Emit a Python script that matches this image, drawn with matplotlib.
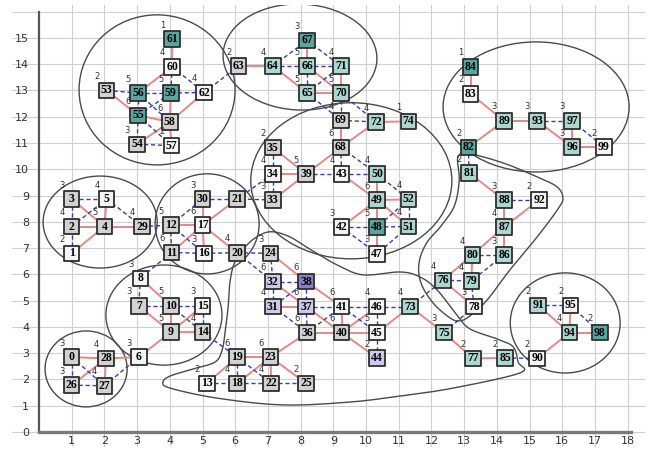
# -*- coding: utf-8 -*-
"""
Network partition chart: numbered nodes on a grid, red/blue edges, cluster outlines
"""
import numpy as np
import matplotlib
matplotlib.use('Agg')
import matplotlib.pyplot as plt
from matplotlib.patches import Ellipse

# node positions, index = node id
node_x = [1.0, 1.0, 1.0, 1.0, 2.0, 2.07, 3.05, 3.05, 3.1, 4.03,
          4.03, 4.05, 4.03, 5.13, 5.0, 5.0, 5.05, 5.0, 6.06, 6.06,
          6.06, 6.06, 7.1, 7.08, 7.08, 8.17, 1.0, 2.0, 2.05, 3.15,
          5.0, 7.15, 7.15, 7.15, 7.15, 7.15, 8.2, 8.17, 8.17, 8.17,
          9.25, 9.25, 9.25, 9.25, 10.34, 10.34, 10.34, 10.34, 10.34, 10.34,
          10.34, 11.3, 11.3, 2.07, 3.0, 3.03, 3.03, 4.05, 4.0, 4.03,
          4.07, 4.07, 5.05, 6.1, 7.15, 8.2, 8.2, 8.2, 9.23, 9.23,
          9.23, 9.23, 10.3, 11.35, 11.3, 12.38, 12.35, 13.27, 13.3, 13.22,
          13.25, 13.15, 13.13, 13.2, 13.2, 14.25, 14.22, 14.22, 14.22, 14.22,
          15.23, 15.26, 15.29, 15.23, 16.22, 16.25, 16.3, 16.3, 17.15, 17.27]
node_y = [2.85, 6.8, 7.82, 8.87, 7.82, 8.87, 2.85, 4.8, 5.85, 3.8,
          4.8, 6.83, 7.87, 1.85, 3.8, 4.8, 6.8, 7.87, 1.85, 2.85,
          6.82, 8.87, 1.85, 2.85, 6.8, 1.85, 1.78, 1.76, 2.8, 7.82,
          8.87, 4.77, 5.72, 8.83, 9.82, 10.82, 3.78, 4.77, 5.72, 9.82,
          3.78, 4.77, 7.8, 9.82, 2.82, 3.78, 4.77, 6.78, 7.8, 8.83,
          9.82, 7.82, 8.85, 13.0, 10.95, 12.05, 12.9, 10.9, 11.8, 12.9,
          13.9, 14.95, 12.92, 13.93, 13.93, 12.9, 13.93, 14.9, 10.83, 11.86,
          12.9, 13.93, 11.8, 4.77, 11.82, 3.78, 5.77, 2.8, 4.77, 5.75,
          6.74, 9.86, 10.83, 12.87, 13.9, 2.82, 6.74, 7.8, 8.83, 11.84,
          2.8, 4.82, 8.83, 11.84, 3.78, 4.82, 10.85, 11.84, 3.78, 10.85]

# small number shown above-left of every node (None = not shown)
node_degree = [3, 2, 4, 3, 5, 4, 3, 3, 3, 5,
               5, 6, 5, 2, 4, 3, 3, 6, 4, 6,
               4, None, 4, 6, 3, 2, 3, 4, 4, 4,
               3, 4, 6, 3, 4, 2, 6, 6, 6, 5,
               6, 6, 3, 4, 2, 5, 4, 3, 5, 6,
               4, 4, 4, 2, 3, 6, 5, 2, 6, 5,
               4, 1, 4, 2, 4, 5, 5, 3, 6, 4,
               5, 4, 4, 4, 1, 3, 4, 2, 3, 4,
               4, 2, 2, 2, 1, 2, 3, 4, 3, 3,
               2, 2, 2, 3, 4, 2, 3, 3, 2, 2]

# box fill: g grey, w white, t teal, l light teal, p purple, q light purple
node_fill = list('gwgggwwgwg'
                 'gggwgwwwgg'
                 'gggggggggg'
                 'gqqgwggqpg'
                 'gwwwqwwwtl'
                 'lllggttwgt'
                 'wtwgllltgg'
                 'llllllllwl'
                 'lltwtlllll'
                 'wlwllwlltw')

red_edges = [(61, 60), (60, 56), (53, 55), (59, 58), (58, 57), (55, 58), (62, 58), (54, 58),
             (63, 64), (64, 65), (67, 66), (66, 70), (65, 70), (71, 70),
             (69, 68), (72, 74), (68, 72), (68, 39), (35, 39), (34, 39), (33, 39),
             (43, 49), (50, 49), (49, 52), (49, 42), (49, 48), (49, 51), (48, 47),
             (3, 4), (5, 4), (2, 4), (4, 29), (1, 4),
             (12, 17), (30, 17), (21, 17), (17, 16), (17, 11), (17, 20),
             (8, 10), (7, 9), (10, 9), (15, 9), (9, 14), (9, 6),
             (0, 28), (28, 27), (28, 26), (28, 6),
             (13, 19), (19, 23), (18, 23), (23, 22), (23, 25), (23, 36),
             (24, 38), (32, 37), (38, 41), (31, 37), (37, 40), (36, 40), (41, 40),
             (40, 46), (40, 45), (40, 44), (45, 73), (73, 75), (75, 77), (77, 85), (90, 94),
             (76, 78), (80, 79), (80, 76), (87, 86), (87, 80), (88, 87), (92, 87), (81, 88),
             (82, 89), (84, 83), (83, 89), (89, 93), (93, 96), (97, 96), (96, 99),
             (91, 94), (95, 94), (94, 98)]

blue_edges = [(60, 59), (60, 62), (53, 56), (56, 59), (59, 62), (56, 55), (56, 58), (55, 59),
              (55, 54), (55, 57), (54, 57), (62, 63),
              (64, 66), (64, 67), (67, 71), (66, 71), (66, 65), (65, 71), (70, 69), (65, 69),
              (70, 72), (69, 72),
              (68, 43), (68, 50), (35, 34), (34, 33), (34, 21), (33, 21), (39, 43), (43, 50),
              (50, 52), (52, 51), (52, 48), (42, 48), (42, 47), (48, 51), (51, 47),
              (3, 5), (3, 2), (2, 5), (5, 29), (1, 2), (29, 12),
              (12, 30), (30, 21), (12, 11), (12, 16), (11, 16), (16, 20), (11, 8), (20, 24), (20, 32),
              (8, 7), (7, 10), (10, 15), (10, 14), (15, 14), (14, 19),
              (0, 26), (0, 27), (26, 27), (27, 6),
              (13, 18), (19, 18), (19, 22), (18, 22), (22, 25),
              (24, 32), (32, 38), (32, 31), (38, 37), (38, 31), (31, 36), (37, 41), (37, 36),
              (36, 41), (41, 46), (41, 45), (46, 45), (45, 44), (46, 73),
              (73, 76), (78, 75), (76, 79), (79, 78), (80, 86), (86, 79), (88, 92), (82, 81),
              (93, 97), (97, 99), (85, 90), (91, 95), (95, 98)]

# cluster ellipses: centre x, centre y, width, height, angle
ell_cx = [3.61, 7.98, 15.2, 9.55, 1.87, 5.14, 3.82, 1.44, 16.09]
ell_cy = [13.02, 14.27, 12.37, 9.56, 7.99, 7.92, 4.45, 2.4, 4.15]
ell_w = [4.77, 4.71, 5.69, 6.15, 3.49, 3.18, 3.55, 2.51, 3.36]
ell_h = [5.71, 4.03, 4.95, 5.94, 3.5, 3.81, 3.81, 2.89, 3.81]
ell_ang = [0, -5, 0, 0, 0, 0, 0, 0, 0]

# irregular cluster outlines (control points of a closed smooth curve)
blob_lower = [(6.76, 7.5), (7.15, 7.62), (7.68, 7.42), (8.29, 6.95), (9.11, 6.36),
              (9.91, 5.98), (11.04, 6.09), (11.65, 5.90), (12.17, 5.41), (12.78, 4.45),
              (13.18, 3.92), (14.01, 3.54), (14.50, 3.24), (14.65, 2.66), (14.71, 2.25),
              (12.66, 1.67), (11.04, 1.37), (9.51, 1.14), (7.46, 1.03), (5.44, 1.29),
              (4.01, 1.67), (3.79, 1.90), (4.01, 2.13), (4.71, 2.40), (5.38, 2.66),
              (5.60, 3.12), (5.69, 3.81), (5.78, 4.72), (5.84, 5.71), (5.99, 6.47),
              (6.36, 7.12)]
blob_right = [(12.81, 10.47), (13.18, 10.58), (14.19, 10.24), (15.23, 9.71), (15.84, 9.33),
              (16.02, 8.91), (15.87, 8.49), (15.23, 7.42), (14.40, 6.17), (13.70, 5.02),
              (13.18, 4.42), (12.87, 4.23), (12.57, 4.34), (12.05, 4.91), (11.68, 5.67),
              (11.62, 6.43), (11.85, 7.19), (12.3, 7.85), (12.7, 8.6), (12.85, 9.59)]

fills = {'g': '#d2d2d2', 'w': '#f5f5f5', 't': '#5aa69f', 'l': '#acd7d1',
         'p': '#8a80c6', 'q': '#cdc8ec'}


def closed_curve(points, steps=14):
    """闭合 Catmull-Rom 曲线"""
    p = np.array(points, dtype=float)
    n = len(p)
    out = []
    for i in range(n):
        p0, p1, p2, p3 = p[i - 1], p[i], p[(i + 1) % n], p[(i + 2) % n]
        for t in np.linspace(0, 1, steps, endpoint=False):
            t2, t3 = t * t, t * t * t
            out.append(0.5 * ((2 * p1) + (-p0 + p2) * t +
                              (2 * p0 - 5 * p1 + 4 * p2 - p3) * t2 +
                              (-p0 + 3 * p1 - 3 * p2 + p3) * t3))
    out.append(out[0])
    return np.array(out)


fig = plt.figure(figsize=(6.57, 4.49), dpi=100)
ax = fig.add_axes([12 / 657, 2 / 449, 633 / 657, 442 / 449])
ax.set_xlim(-0.826, 18.53)
ax.set_ylim(-0.571, 16.25)

ax.set_xticks(range(1, 19))
ax.set_yticks(range(0, 17))
ax.set_yticklabels([str(i) for i in range(16)] + [''])
ax.grid(True, color='#d0d0d0', lw=0.8)
ax.set_axisbelow(True)
for s in ['top', 'right']:
    ax.spines[s].set_visible(False)
ax.spines['left'].set_position(('data', 0))
ax.spines['bottom'].set_position(('data', 0))
ax.spines['left'].set_bounds(0, 16)
ax.spines['bottom'].set_bounds(0, 18.1)
ax.spines['left'].set_color('#555555')
ax.spines['left'].set_linewidth(1.6)
ax.spines['bottom'].set_color('#7a7a7a')
ax.spines['bottom'].set_linewidth(2.4)
ax.tick_params(axis='both', length=0, labelsize=8, colors='#333333')
ax.tick_params(axis='y', pad=7)
ax.tick_params(axis='x', pad=3)

# cluster outlines
for cx, cy, w, h, a in zip(ell_cx, ell_cy, ell_w, ell_h, ell_ang):
    ax.add_patch(Ellipse((cx, cy), w, h, angle=a, fill=False,
                         ec='#4a4a4a', lw=1.0, zorder=1))
for blob in [blob_lower, blob_right]:
    c = closed_curve(blob)
    ax.plot(c[:, 0], c[:, 1], color='#4a4a4a', lw=1.0, zorder=1)

# edges
for a, b in red_edges:
    ax.plot([node_x[a], node_x[b]], [node_y[a], node_y[b]],
            color='#e3898a', lw=1.4, zorder=2, solid_capstyle='butt')
for a, b in blue_edges:
    ax.plot([node_x[a], node_x[b]], [node_y[a], node_y[b]],
            color='#3a3ab4', lw=1.0, dashes=(3, 2), zorder=2)

# nodes
ax.scatter(node_x, node_y, marker='s', s=125,
           c=[fills[f] for f in node_fill], edgecolors='#2e2e2e',
           linewidths=1.3, zorder=4)
for i, (x, y) in enumerate(zip(node_x, node_y)):
    ax.text(x, y, str(i), ha='center', va='center', fontsize=8.5,
            fontweight='bold', family='Liberation Serif', color='black', zorder=5)
    if node_degree[i] is not None:
        ax.annotate(str(node_degree[i]), (x, y), xytext=(-7, 10),
                    textcoords='offset points', ha='center', va='center',
                    fontsize=6, color='#333333', zorder=5)

plt.savefig('out.png', dpi=100)
plt.close()
